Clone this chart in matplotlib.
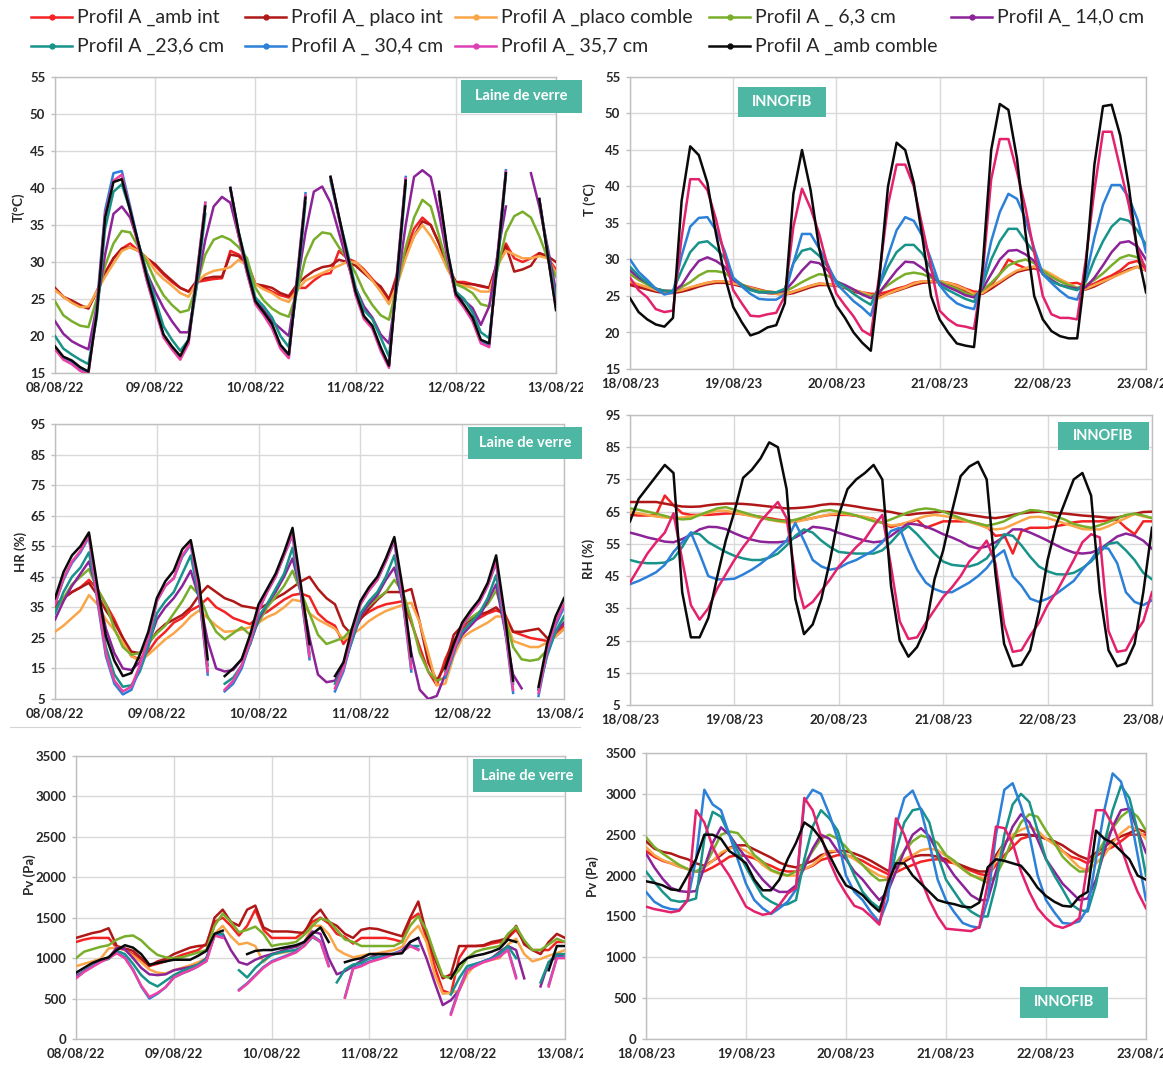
import numpy as np
import matplotlib
matplotlib.use("Agg")
import matplotlib.pyplot as plt
from matplotlib.lines import Line2D
from matplotlib.patches import Rectangle
from matplotlib.transforms import Bbox, TransformedBbox

plt.rcParams["font.family"] = ["Lato", "DejaVu Sans"]

nan = np.nan

# 2-hourly readings over five days (hours since the first midnight)
HOURS = list(range(0, 121, 2))

DAYS_2022 = ["08/08/22", "09/08/22", "10/08/22", "11/08/22", "12/08/22", "13/08/22"]
DAYS_2023 = ["18/08/23", "19/08/23", "20/08/23", "21/08/23", "22/08/23", "23/08/23"]

SERIES_LABELS = [
    "Profil A _amb int", "Profil A_ placo int", "Profil A _placo comble",
    "Profil A _ 6,3 cm", "Profil A_ 14,0 cm", "Profil A _23,6 cm",
    "Profil A _ 30,4 cm", "Profil A_ 35,7 cm", "Profil A _amb comble",
]

# ---------------- Temperature (°C), glass wool, 2022 (sensor gaps above 42.5 °C) ----------------
T22_AMB_INT = [26.4, 25.3, 24.6, 24.0, 23.8, 26.0, 28.5, 30.5, 31.8, 32.5, 31.5, 30.5,
               29.5, 28.3, 27.3, 26.5, 26.0, 27.3, 27.5, 27.7, 27.8, 31.5, 31.0, 30.0,
               27.0, 26.6, 26.0, 25.5, 25.2, 26.5, 26.5, 27.5, 28.3, 28.5, 31.5, 30.5,
               30.0, 29.0, 27.7, 26.5, 24.8, 28.5, 31.5, 34.5, 36.0, 35.0, 32.5, 29.5,
               27.3, 27.3, 27.0, 26.7, 26.5, 30.0, 32.5, 30.5, 30.0, 30.5, 31.2, 30.5,
               29.0]
T22_PLACO_INT = [26.5, 25.3, 24.8, 24.2, 23.7, 26.0, 28.5, 30.5, 31.8, 32.0, 31.5, 30.5,
                 29.7, 28.5, 27.5, 26.5, 26.0, 27.5, 27.8, 28.0, 28.0, 31.0, 30.8, 29.5,
                 27.0, 26.8, 26.5, 25.8, 25.4, 27.0, 28.0, 28.8, 29.3, 29.5, 30.3, 30.0,
                 29.5, 28.5, 27.5, 26.7, 25.0, 28.0, 31.0, 33.5, 35.5, 35.0, 32.5, 29.5,
                 27.3, 27.0, 27.0, 26.8, 26.5, 30.0, 32.2, 28.7, 29.0, 29.5, 31.2, 30.8,
                 30.0]
T22_PLACO_COMBLE = [26.2, 25.3, 24.5, 23.9, 24.0, 26.0, 28.0, 29.8, 31.5, 32.0, 31.5, 30.5,
                    28.8, 27.7, 26.8, 25.8, 25.3, 27.3, 28.3, 28.8, 29.0, 29.3, 30.3, 29.5,
                    27.0, 26.3, 25.8, 25.0, 24.6, 26.2, 27.5, 28.0, 28.5, 29.0, 29.5, 30.0,
                    30.0, 28.8, 27.5, 26.0, 24.3, 27.0, 30.5, 33.5, 35.0, 33.5, 31.5, 29.0,
                    27.0, 26.8, 26.5, 26.0, 26.0, 29.5, 31.5, 31.0, 30.5, 30.5, 30.8, 30.5,
                    28.5]
T22_6_3 = [24.7, 22.8, 22.0, 21.4, 21.2, 25.0, 29.5, 32.5, 34.2, 34.0, 32.0, 30.0,
           27.5, 25.5, 24.2, 23.2, 23.5, 27.0, 31.0, 33.0, 33.5, 33.0, 32.0, 30.5,
           26.5, 24.8, 23.7, 23.0, 22.6, 26.0, 30.5, 33.0, 34.0, 33.8, 32.0, 30.5,
           28.5, 26.0, 24.2, 22.8, 22.2, 27.0, 32.0, 36.0, 38.4, 37.5, 33.5, 29.5,
           27.0, 26.5, 25.8, 24.3, 24.0, 29.0, 34.0, 36.2, 36.8, 36.0, 33.5, 30.5,
           28.0]
T22_14_0 = [22.0, 20.3, 19.3, 18.7, 18.2, 24.0, 31.0, 36.5, 37.5, 36.0, 32.5, 28.5,
            26.0, 23.8, 22.0, 20.5, 20.5, 27.0, 33.0, 37.5, 38.8, 38.0, 33.5, 29.0,
            24.8, 23.5, 22.0, 21.0, 20.0, 27.0, 34.0, 39.5, 40.2, 38.0, 34.0, 30.0,
            26.5, 24.0, 22.5, 20.2, 19.0, 27.0, 35.0, 41.5, 42.4, 41.5, 36.5, 30.5,
            25.5, 24.8, 23.8, 21.5, 24.0, 31.0, 37.5, nan, nan, 42.0, 37.5, 32.0,
            26.0]
T22_23_6 = [20.0, 18.3, 17.5, 16.8, 16.2, 22.5, 34.5, 39.5, 40.5, 37.0, 32.5, 28.5,
            25.0, 21.3, 19.5, 18.0, 19.5, 27.0, 36.5, nan, nan, 40.0, 34.0, 29.5,
            25.2, 24.0, 22.5, 20.0, 18.5, 26.5, 38.0, nan, nan, 41.0, 36.0, 31.5,
            26.5, 23.5, 22.3, 19.8, 17.2, 27.5, 40.5, nan, nan, nan, 39.0, 31.5,
            26.0, 25.0, 23.2, 20.5, 19.7, 29.5, 41.8, nan, nan, nan, 38.5, 31.5,
            25.0]
T22_30_4 = [18.4, 17.0, 16.5, 15.6, 15.0, 24.0, 37.0, 42.0, 42.3, 37.5, 32.5, 27.5,
            23.8, 20.0, 18.4, 17.0, 19.5, 28.5, 38.0, nan, nan, 40.0, 33.5, 28.5,
            24.5, 23.0, 21.3, 18.5, 17.2, 28.0, 39.3, nan, nan, 41.5, 36.0, 30.5,
            25.7, 22.5, 21.2, 18.2, 16.0, 29.0, 41.5, nan, nan, nan, 39.0, 31.0,
            25.5, 24.0, 22.2, 19.3, 18.7, 31.0, 42.4, nan, nan, nan, 38.5, 31.0,
            24.0]
T22_35_7 = [18.2, 16.8, 16.2, 15.3, 14.8, 23.5, 36.5, 41.0, 41.8, 37.0, 32.0, 27.5,
            23.5, 19.8, 18.2, 16.8, 19.0, 28.5, 38.0, nan, nan, 40.0, 33.5, 28.5,
            24.3, 22.8, 21.0, 18.3, 17.0, 28.0, 39.0, nan, nan, 41.5, 36.0, 30.5,
            25.5, 22.3, 21.0, 18.0, 15.7, 29.0, 41.3, nan, nan, nan, 39.0, 31.0,
            25.3, 23.8, 22.0, 19.0, 18.5, 31.0, 42.2, nan, nan, nan, 38.5, 31.0,
            23.8]
T22_AMB_COMBLE = [18.6, 17.2, 16.7, 15.8, 15.2, 23.0, 36.0, 40.8, 41.2, 37.0, 32.5, 28.0,
                  24.0, 20.2, 18.6, 17.3, 19.5, 28.0, 37.5, nan, nan, 40.0, 34.0, 29.0,
                  24.7, 23.2, 21.6, 18.8, 17.5, 27.5, 38.7, nan, nan, 41.5, 36.2, 31.0,
                  26.0, 22.7, 21.4, 18.5, 16.0, 28.5, 41.0, nan, nan, nan, 39.5, 31.5,
                  25.7, 24.2, 22.5, 19.5, 19.0, 30.5, 42.0, nan, nan, nan, 38.5, 31.0,
                  23.5]

# ---------------- Temperature (°C), INNOFIB, 2023 ----------------
T23_AMB_INT = [26.8, 26.5, 26.2, 25.8, 25.7, 25.7, 25.8, 26.1, 26.5, 26.8, 27.0, 27.0,
               26.8, 26.5, 26.2, 25.9, 25.6, 25.5, 25.3, 25.6, 26.0, 26.4, 26.7, 26.6,
               26.5, 26.2, 25.8, 25.5, 25.3, 25.3, 25.6, 26.0, 26.3, 26.8, 27.0, 27.0,
               27.0, 26.8, 26.5, 26.0, 25.6, 25.5, 26.5, 28.0, 30.0, 29.3, 28.8, 29.0,
               28.5, 27.8, 27.2, 26.7, 26.8, 26.3, 26.7, 27.3, 27.8, 28.5, 29.5, 29.8,
               28.7]
T23_PLACO_INT = [26.5, 26.2, 25.9, 25.6, 25.4, 25.4, 25.6, 25.9, 26.3, 26.6, 26.8, 26.8,
                 26.6, 26.3, 26.0, 25.7, 25.4, 25.3, 25.2, 25.4, 25.8, 26.2, 26.5, 26.5,
                 26.4, 26.1, 25.6, 25.3, 25.0, 24.9, 25.3, 25.7, 26.1, 26.5, 26.8, 26.9,
                 26.9, 26.6, 26.2, 25.7, 25.2, 25.3, 26.0, 26.8, 27.6, 28.3, 28.6, 28.8,
                 28.4, 27.8, 27.1, 26.5, 26.0, 25.9, 26.3, 26.9, 27.5, 28.1, 28.7, 29.0,
                 28.5]
T23_PLACO_COMBLE = [27.0, 26.6, 26.2, 25.8, 25.6, 25.6, 25.8, 26.2, 26.5, 26.8, 27.0, 27.0,
                    26.7, 26.5, 26.1, 25.8, 25.5, 25.3, 25.2, 25.6, 26.0, 26.4, 26.7, 26.6,
                    26.5, 26.2, 25.8, 25.5, 25.1, 24.7, 25.3, 25.8, 26.2, 26.7, 27.0, 27.0,
                    27.0, 26.8, 26.4, 25.9, 25.3, 25.4, 26.3, 27.0, 27.8, 28.5, 28.8, 29.0,
                    28.6, 28.0, 27.3, 26.7, 26.1, 26.0, 26.5, 27.0, 27.5, 28.0, 28.5, 29.0,
                    28.5]
T23_6_3 = [28.0, 27.2, 26.6, 26.0, 25.7, 25.6, 26.2, 26.9, 27.8, 28.4, 28.4, 28.2,
           27.3, 26.6, 26.0, 25.7, 25.6, 25.5, 25.6, 26.2, 26.9, 27.5, 28.0, 27.8,
           27.0, 26.3, 25.8, 25.3, 24.9, 25.6, 26.5, 27.3, 28.0, 28.2, 28.0, 27.5,
           27.0, 26.4, 26.0, 25.4, 25.0, 25.8, 26.8, 28.0, 29.2, 29.7, 30.0, 29.5,
           28.5, 27.6, 27.0, 26.5, 26.1, 26.5, 27.2, 28.1, 29.2, 30.2, 30.6, 30.3,
           29.0]
T23_14_0 = [28.5, 27.5, 26.8, 26.0, 25.7, 25.6, 26.5, 28.3, 29.8, 30.3, 29.8, 29.0,
            27.2, 26.5, 25.9, 25.5, 25.5, 25.5, 25.7, 27.0, 28.5, 29.7, 29.5, 28.5,
            27.0, 26.5, 25.9, 25.2, 24.7, 25.5, 27.0, 28.5, 29.7, 29.6, 28.8, 27.8,
            26.8, 26.2, 25.7, 25.1, 24.8, 26.0, 28.0, 30.0, 31.2, 31.3, 30.7, 29.8,
            28.0, 27.2, 26.5, 26.2, 26.0, 26.2, 27.5, 29.2, 31.0, 32.3, 32.5, 31.8,
            30.0]
T23_23_6 = [29.0, 27.8, 26.8, 26.0, 25.7, 25.7, 28.5, 31.0, 32.3, 32.5, 31.5, 30.2,
            27.5, 26.5, 25.8, 25.5, 25.5, 25.5, 26.0, 29.5, 31.2, 31.5, 30.5, 29.0,
            27.0, 26.2, 25.3, 24.5, 23.8, 26.5, 29.0, 31.0, 32.0, 32.0, 30.8, 28.7,
            26.5, 25.8, 25.2, 24.6, 24.2, 26.5, 30.0, 32.5, 34.2, 34.2, 32.5, 31.0,
            28.0, 27.0, 26.5, 26.1, 25.8, 27.0, 30.0, 32.5, 34.5, 35.6, 35.3, 34.0,
            32.0]
T23_30_4 = [30.0, 28.3, 27.2, 26.0, 25.2, 25.5, 30.5, 34.5, 35.7, 35.8, 34.0, 31.2,
            27.5, 26.3, 25.3, 24.6, 24.5, 24.5, 25.2, 29.5, 33.5, 33.5, 31.5, 29.3,
            26.7, 25.5, 24.3, 23.4, 22.3, 26.5, 30.5, 34.0, 35.8, 35.3, 33.2, 30.0,
            26.5, 25.0, 24.0, 23.5, 23.2, 27.0, 32.5, 36.5, 39.0, 38.3, 35.5, 31.5,
            28.0, 26.8, 25.7, 24.8, 24.5, 27.5, 33.0, 37.5, 40.2, 40.2, 38.5, 35.5,
            31.0]
T23_35_7 = [27.5, 25.8, 24.8, 23.2, 22.8, 23.0, 33.0, 41.0, 41.0, 39.5, 35.5, 30.5,
            25.8, 24.0, 22.3, 22.2, 22.5, 22.7, 25.0, 34.5, 39.7, 37.0, 33.5, 29.0,
            25.3, 23.7, 22.2, 20.3, 19.6, 28.0, 37.5, 43.0, 43.0, 40.0, 34.5, 29.0,
            23.0, 21.8, 21.0, 20.8, 20.5, 28.0, 41.0, 46.5, 46.5, 42.0, 37.0, 31.0,
            25.0, 22.5, 22.0, 22.0, 21.8, 30.0, 39.5, 47.5, 47.5, 42.5, 37.5, 31.5,
            28.5]
T23_AMB_COMBLE = [24.7, 22.8, 21.8, 21.1, 20.8, 22.0, 38.0, 45.5, 44.3, 40.5, 33.5, 27.8,
                  23.5, 21.4, 19.6, 20.0, 20.7, 21.0, 24.0, 39.0, 45.0, 39.5, 31.5, 26.5,
                  23.7, 22.0, 20.0, 18.6, 17.5, 27.5, 40.0, 46.0, 45.0, 40.5, 33.0, 25.0,
                  21.8, 20.0, 18.5, 18.2, 18.0, 29.0, 45.0, 51.3, 50.5, 43.8, 33.5, 25.0,
                  21.8, 20.2, 19.5, 19.2, 19.2, 29.0, 43.0, 51.0, 51.2, 47.0, 40.0, 31.0,
                  25.5]

# ---------------- Relative humidity (%), glass wool, 2022 ----------------
HR22_AMB_INT = [36, 38, 40, 41.5, 44, 41, 36, 31, 25, 19, 18, 20.5,
                24.5, 27, 30, 31.5, 34, 35.5, 38, 35, 33.5, 31.5, 30.5, 29.5,
                32, 33.5, 35.5, 37.5, 39, 39.5, 38.5, 33, 30.5, 29, 23, 27,
                31.5, 33.5, 35, 36, 36.5, 37, 30, 22, 14, 9.5, 18, 24,
                28, 30, 31.5, 33, 34, 33, 27, 26, 25, 24.5, 24, 26,
                29]
HR22_PLACO_INT = [35, 38, 40, 41.5, 43, 39, 34, 30, 25, 20.5, 20, 23,
                  27, 29.5, 31, 32.5, 35, 39, 42, 40, 38, 37, 35.5, 35,
                  34.5, 36, 38, 39.5, 41.5, 43.5, 45, 41, 38, 36, 29, 26,
                  31, 34.5, 37.5, 40, 40, 40, 41, 30, 17, 11, 16, 26,
                  29, 31, 32.5, 33.5, 35, 32, 27, 27, 27.5, 28, 25, 25.5,
                  28]
HR22_PLACO_COMBLE = [27, 29, 31.5, 34, 39, 36, 31, 27.5, 23.5, 19, 17.5, 19.5,
                     22, 24.5, 26.5, 29, 32, 34, 31.5, 29, 27, 27.2, 27.7, 28.5,
                     30, 31.8, 33, 35, 37.5, 37, 33, 31, 29.5, 28, 24.5, 26,
                     28, 30.5, 32.3, 33.8, 34.8, 35.8, 36.5, 30, 20, 9.5, 10, 19,
                     25, 27, 28.5, 30, 32, 32, 24, 23, 22, 22, 23.5, 25.5,
                     28]
HR22_6_3 = [34, 38, 42.5, 45, 47.5, 41, 36, 28, 22, 19.5, 20, 23.5,
            26.5, 29, 33, 37, 42, 39, 32, 27, 24.5, 26.5, 28.5, 26,
            30, 35, 38.5, 42, 47, 40, 33, 26, 23, 24, 25, 28,
            33, 35.5, 38, 40, 44, 40, 31, 20, 14, 11, 12, 20,
            29.5, 31.5, 33.5, 36, 40.5, 32, 22, 18, 17.5, 18, 21, 27,
            32]
HR22_14_0 = [31, 37, 42, 46, 50, 40, 28, 20, 15, 14.5, 17, 23,
             31, 35, 38, 42, 47, 38, 24, 15, 14, 14.5, 18, 23,
             31, 36, 40, 45, 51, 40, 25, 13, 10.5, 11, 16, 24,
             32, 36, 39, 44, 48, 37, 20, 8, 5, 6, 13, 21,
             26, 29, 32, 37, 42.5, 28, 13, 8.5, nan, 8, 20, 27,
             30]
HR22_23_6 = [33, 40, 45, 48, 53, 38, 22, 13, 9, 9.5, 14, 22,
             33, 37, 40, 46, 52, 38, 16, nan, 10, 12, 16, 23,
             32, 36, 41, 46, 54.5, 39, 20, nan, nan, 10, 15, 24,
             33, 37, 40, 45, 52, 37, 17, nan, nan, nan, 14, 21,
             27, 30, 33, 38, 45.5, 29, 10, nan, nan, 8, 19, 27,
             32]
HR22_30_4 = [36, 44, 49.5, 53, 58, 37, 19, 10, 6.5, 8, 15, 24,
             37, 42, 44.5, 51.5, 55.5, 39, 13, nan, 7.5, 10, 15, 23.5,
             34, 40, 45, 52, 58.5, 39, 18, nan, nan, 7.5, 14, 25,
             36, 40.5, 44, 50, 56.5, 37, 14, nan, nan, nan, 12, 20,
             29, 33, 36.5, 42, 49.5, 29, 7, nan, nan, 6, 20, 29,
             35]
HR22_35_7 = [36, 44.5, 50, 53.5, 58.5, 38, 20, 11, 7.5, 9, 16, 25,
             37, 42, 44.5, 52, 56, 40, 14, nan, 8, 11, 16, 24,
             34, 40, 45, 52, 59, 40, 19, nan, nan, 8.5, 15, 26,
             36, 40.5, 44, 50, 57, 38, 15, nan, nan, nan, 13, 21,
             29, 33, 36.5, 42, 50, 30, 8, nan, nan, 7, 21, 30,
             36]
HR22_AMB_COMBLE = [38, 46.5, 52, 55, 59.5, 42, 25.5, 17.5, 12.5, 13.5, 19.5, 27,
                   38, 43.5, 47, 54, 57, 43, 18, nan, 12.5, 15, 18, 26,
                   36, 41, 46, 53, 61, 42, 23, nan, nan, 12.5, 17, 28,
                   37, 41.5, 45, 51, 58, 41, 19, nan, nan, nan, 15, 23,
                   30, 34, 37.5, 43, 52, 33, 11, nan, nan, 9, 23, 32,
                   38]

# ---------------- Relative humidity (%), INNOFIB, 2023 ----------------
RH23_AMB_INT = [64, 63.8, 63.8, 64, 70, 67, 64.5, 64, 64, 64, 64.2, 64.4,
                64.5, 64.2, 63.8, 63.4, 63, 62.5, 62.2, 62.2, 62.5, 63, 63.6, 64,
                64, 64, 63.7, 63.2, 62.8, 61.5, 60.2, 61, 61.5, 62.5, 60, 61,
                62, 62, 62, 62, 61.3, 60.5, 57.5, 57.8, 52, 59, 60, 60,
                60, 60.5, 61, 61.7, 62, 62, 62, 62.3, 62.5, 60, 58, 62,
                62]
RH23_PLACO_INT = [68, 68, 68, 68, 67.5, 67, 66.6, 66.5, 66.6, 67, 67.3, 67.5,
                  67.5, 67.4, 67.2, 66.9, 66.6, 66.3, 66, 66.1, 66.3, 66.6, 67.1, 67.4,
                  67.3, 67, 66.6, 66.1, 65.7, 65.3, 64.9, 64.3, 64, 64.4, 64.6, 64.8,
                  65, 64.8, 64.4, 64, 63.6, 63.2, 63, 63.4, 64, 64.5, 64.8, 65,
                  64.8, 64.6, 64.4, 64.1, 63.8, 63.6, 63.4, 63.1, 63.2, 63.8, 64.3, 64.9,
                  65]
RH23_PLACO_COMBLE = [65, 64.5, 64, 63.5, 63.2, 63, 63.2, 63.5, 64, 64.6, 65.3, 65.3,
                     64.7, 64.2, 63.6, 63, 62.5, 62, 61.6, 61.8, 62.4, 63, 63.6, 64.2,
                     64.4, 64.2, 63.8, 63.4, 62.6, 61.5, 60.7, 61, 61.8, 62.8, 63.6, 64,
                     63.7, 63.2, 62.5, 61.8, 61, 60, 59.5, 59.8, 61, 62.2, 63.3, 63.4,
                     63, 62.2, 61.3, 60.5, 59.6, 59.5, 59.5, 60.5, 61.8, 63, 64.3, 63.5,
                     63]
RH23_6_3 = [66, 65.6, 65, 64.4, 63.7, 63, 62.6, 62.8, 64, 65, 66, 66.4,
            65.6, 64.8, 64, 63.3, 62.6, 62.2, 62, 62.5, 63.3, 64.2, 65.2, 65.5,
            65, 64.5, 63.8, 62.9, 62, 61.6, 62.6, 63.7, 64.8, 65.6, 66, 65.7,
            65, 64, 63, 62, 61.3, 60.7, 61.2, 62, 63.5, 64.6, 65.5, 65.3,
            64.5, 63.5, 62.5, 61.2, 60.5, 60, 60.8, 61.8, 62.9, 64, 64.4, 63.8,
            63]
RH23_14_0 = [58.5, 57.8, 57, 56.4, 55.7, 55.5, 56.5, 57.8, 59.5, 60.3, 60.2, 59.6,
             58.3, 57.2, 56.3, 55.7, 55.5, 55.5, 55.8, 57, 58.5, 60.3, 60, 59.5,
             58.4, 57.6, 56.8, 56, 55.5, 55.8, 57.5, 59.5, 61.3, 61, 60.4, 59.3,
             58, 57, 55.8, 54.3, 53.6, 54.2, 55.5, 57.2, 59.5, 59.5, 58.5, 57.3,
             56, 54.6, 53.3, 52.3, 52, 52.3, 53.3, 55.3, 57.3, 58.2, 57.5, 56,
             53.5]
RH23_23_6 = [50, 49.3, 49, 49, 49.2, 50.5, 54, 58.5, 58, 55.5, 54, 52.5,
             51.3, 50.5, 50, 50, 50.7, 52, 54.5, 57.5, 59.5, 58.5, 56, 54,
             52.5, 52.2, 52, 52, 52, 53, 55.5, 58.5, 60.5, 58, 55, 52,
             49.5, 48.5, 48.2, 48, 48.8, 50.5, 54, 58, 57.5, 54.5, 51, 48,
             46.5, 45.6, 45.5, 46, 47.5, 49.5, 52.5, 55, 55.5, 53, 50, 46,
             44]
RH23_30_4 = [42.5, 43.5, 44.8, 46.2, 48.5, 52.5, 55.5, 58.5, 52, 45, 44, 44,
             44.2, 45.5, 47, 48.8, 51, 53.5, 56, 61.5, 56, 50, 48, 47,
             47.5, 49, 50, 51.5, 53, 55.5, 59, 60, 53, 47, 43, 41,
             40, 40, 41.5, 43, 45, 47.5, 51, 53, 45, 42, 38, 37,
             38, 39.5, 41.5, 43.5, 47, 50, 54, 53.5, 49, 40, 37, 36,
             37.5]
RH23_35_7 = [43, 47.5, 52, 55.5, 58.5, 64.5, 50, 36, 31.5, 35, 41, 45.5,
             50, 54, 57.5, 62, 65, 68, 63, 45, 35, 37, 40.5, 44,
             48, 51, 54, 56.5, 60.5, 64, 48, 31, 25.5, 26, 30.5, 34.5,
             38.5, 41.5, 45, 49.5, 52.5, 56, 49, 30, 21.5, 22, 26.5, 30.5,
             36, 40, 45, 50, 55.5, 58, 57, 28, 21.5, 22, 27, 31,
             40]
RH23_AMB_COMBLE = [62, 69, 72.5, 76, 79.5, 77, 40, 26, 26, 32, 44.5, 56,
                   65, 75.5, 78, 81.5, 86.5, 85, 72, 38, 27, 30, 38, 50,
                   64, 72, 75, 77, 79.5, 75, 42, 25, 20, 23, 29, 44,
                   53, 65, 76, 79, 80.5, 75, 46, 24, 17, 17.5, 22, 34,
                   50, 61, 68, 75, 77, 70, 40, 22, 17, 18, 24, 40,
                   60]

# ---------------- Vapour pressure (Pa), glass wool, 2022 ----------------
PV22_AMB_INT = [1200, 1230, 1250, 1250, 1250, 1130, 1100, 1050, 980, 905, 930, 960,
                1000, 1040, 1070, 1100, 1180, 1450, 1500, 1400, 1280, 1400, 1600, 1350,
                1250, 1250, 1250, 1250, 1330, 1450, 1500, 1430, 1300, 1260, 1180, 1250,
                1250, 1250, 1250, 1230, 1200, 1480, 1550, 1250, 900, 600, 560, 1000,
                1150, 1150, 1150, 1180, 1200, 1250, 1350, 1200, 1100, 1100, 1100, 1200,
                1200]
PV22_PLACO_INT = [1250, 1280, 1310, 1330, 1370, 1150, 1120, 1090, 1000, 900, 960, 990,
                  1050, 1090, 1130, 1150, 1160, 1500, 1600, 1450, 1400, 1600, 1650, 1380,
                  1330, 1330, 1330, 1320, 1310, 1500, 1600, 1450, 1400, 1300, 1250, 1350,
                  1370, 1360, 1330, 1300, 1270, 1500, 1700, 1300, 1000, 750, 800, 1150,
                  1150, 1150, 1160, 1200, 1220, 1250, 1400, 1170, 1100, 1050, 1200, 1300,
                  1250]
PV22_PLACO_COMBLE = [900, 930, 960, 990, 1120, 1130, 1100, 1030, 950, 860, 820, 810,
                     850, 880, 910, 950, 1000, 1300, 1400, 1270, 1170, 1190, 1150, 950,
                     1050, 1060, 1080, 1100, 1190, 1400, 1400, 1300, 1110, 1050, 1010, 1030,
                     1050, 1060, 1080, 1100, 1140, 1300, 1400, 1200, 800, 560, 570, 600,
                     800, 920, 950, 980, 1000, 1170, 1240, 1050, 960, 990, 1030, 1060,
                     1100]
PV22_6_3 = [1000, 1080, 1110, 1140, 1160, 1230, 1270, 1280, 1220, 1120, 1040, 1010,
            1000, 1010, 1040, 1070, 1100, 1400, 1550, 1450, 1320, 1350, 1390, 1300,
            1150, 1170, 1180, 1200, 1290, 1400, 1490, 1460, 1350, 1230, 1200, 1150,
            1150, 1150, 1150, 1150, 1200, 1400, 1520, 1350, 1050, 780, 750, 850,
            1000, 1080, 1110, 1130, 1150, 1300, 1390, 1220, 1100, 1100, 1170, 1240,
            1200]
PV22_14_0 = [780, 840, 900, 980, 1000, 1130, 1110, 1000, 880, 800, 790, 800,
             850, 870, 890, 920, 1000, 1280, 1300, 1100, 950, 920, 980, 1020,
             1050, 1080, 1120, 1140, 1200, 1330, 1300, 1000, 800, 840, 900, 970,
             1000, 1050, 1050, 1050, 1100, 1200, 1250, 1000, 700, 420, 480, 600,
             850, 920, 960, 1000, 1080, 1150, 1100, 750, nan, 650, 950, 1020,
             1050]
PV22_23_6 = [760, 840, 900, 960, 990, 1090, 1050, 930, 790, 700, 650, 720,
             790, 840, 880, 920, 990, 1280, 1300, nan, 850, 760, 880, 970,
             1040, 1070, 1090, 1100, 1150, 1260, 1200, nan, 700, 860, 920, 940,
             1000, 1010, 1030, 1050, 1080, 1150, 1150, nan, nan, nan, 550, 750,
             900, 930, 960, 1000, 1060, 1150, 1000, nan, nan, 700, 950, 1050,
             1050]
PV22_30_4 = [760, 840, 900, 960, 1010, 1070, 1010, 860, 650, 500, 560, 640,
             760, 810, 850, 900, 970, 1290, 1260, nan, 610, 690, 790, 890,
             960, 1000, 1040, 1080, 1160, 1280, 1210, 910, nan, 520, 880, 910,
             960, 990, 1020, 1060, 1090, 1160, 1110, nan, nan, nan, 320, 620,
             860, 910, 960, 990, 1030, 1110, 770, nan, nan, nan, 670, 1010,
             1010]
PV22_35_7 = [750, 830, 890, 950, 1000, 1060, 1000, 850, 660, 520, 570, 640,
             760, 810, 850, 900, 960, 1280, 1250, nan, 600, 680, 780, 880,
             950, 990, 1030, 1070, 1150, 1270, 1200, 900, nan, 510, 870, 900,
             950, 980, 1010, 1050, 1080, 1150, 1100, nan, nan, nan, 300, 600,
             850, 900, 950, 980, 1020, 1100, 750, nan, nan, nan, 650, 1000,
             1000]
PV22_AMB_COMBLE = [820, 880, 940, 980, 1010, 1100, 1160, 1130, 1050, 920, 940, 960,
                   980, 980, 980, 1030, 1090, 1300, 1340, nan, nan, 1050, 1090, 1100,
                   1100, 1120, 1140, 1160, 1200, 1300, 1380, 1200, nan, 950, 980, 1000,
                   1050, 1050, 1050, 1050, 1060, 1200, 1250, nan, nan, nan, 750, 920,
                   1000, 1030, 1050, 1080, 1120, 1230, 1200, nan, nan, nan, 850, 1150,
                   1150]

# ---------------- Vapour pressure (Pa), INNOFIB, 2023 ----------------
PV23_AMB_INT = [2300, 2230, 2180, 2150, 2110, 2080, 2050, 2050, 2100, 2160, 2230, 2250,
                2240, 2210, 2160, 2120, 2070, 2050, 2050, 2080, 2120, 2190, 2220, 2250,
                2250, 2220, 2180, 2120, 2070, 2020, 2040, 2090, 2130, 2170, 2190, 2200,
                2170, 2150, 2100, 2060, 2020, 2000, 2130, 2250, 2350, 2450, 2480, 2500,
                2450, 2400, 2300, 2230, 2200, 2150, 2240, 2300, 2350, 2420, 2500, 2500,
                2500]
PV23_PLACO_INT = [2420, 2330, 2290, 2270, 2230, 2200, 2150, 2120, 2180, 2250, 2340, 2370,
                  2370, 2320, 2270, 2220, 2160, 2120, 2100, 2140, 2180, 2250, 2280, 2300,
                  2300, 2270, 2230, 2180, 2120, 2060, 2100, 2170, 2230, 2250, 2250, 2230,
                  2200, 2160, 2120, 2080, 2050, 2050, 2250, 2400, 2480, 2500, 2500, 2480,
                  2450, 2420, 2370, 2300, 2240, 2200, 2280, 2350, 2430, 2480, 2520, 2570,
                  2530]
PV23_PLACO_COMBLE = [2350, 2250, 2190, 2150, 2110, 2080, 2050, 2100, 2180, 2280, 2330, 2350,
                     2300, 2230, 2130, 2060, 2020, 2000, 2000, 2080, 2130, 2220, 2300, 2300,
                     2260, 2200, 2130, 2060, 2000, 1970, 2050, 2200, 2250, 2310, 2330, 2310,
                     2240, 2150, 2080, 2000, 1980, 1950, 2200, 2400, 2500, 2560, 2600, 2550,
                     2450, 2380, 2300, 2200, 2100, 2060, 2150, 2250, 2400, 2520, 2600, 2560,
                     2450]
PV23_6_3 = [2470, 2350, 2270, 2200, 2130, 2080, 2050, 2110, 2300, 2500, 2540, 2520,
            2400, 2250, 2170, 2070, 2030, 2000, 2050, 2150, 2300, 2450, 2500, 2450,
            2350, 2230, 2130, 2020, 1940, 1950, 2150, 2300, 2420, 2490, 2460, 2400,
            2250, 2180, 2080, 2010, 1960, 1910, 2000, 2200, 2450, 2650, 2750, 2720,
            2550, 2400, 2230, 2130, 2050, 2050, 2250, 2420, 2580, 2720, 2800, 2720,
            2550]
PV23_14_0 = [2270, 2100, 1960, 1850, 1810, 1800, 1810, 2100, 2400, 2590, 2500, 2350,
             2220, 2080, 1950, 1850, 1800, 1800, 1880, 2100, 2330, 2500, 2450, 2300,
             2200, 2050, 1950, 1820, 1700, 1800, 2050, 2300, 2500, 2580, 2480, 2280,
             2150, 2000, 1880, 1760, 1700, 1700, 2050, 2350, 2600, 2750, 2650, 2440,
             2200, 2050, 1900, 1800, 1700, 1720, 1950, 2300, 2600, 2800, 2820, 2550,
             2280]
PV23_23_6 = [2050, 1920, 1800, 1700, 1680, 1690, 1720, 2450, 2780, 2720, 2500, 2300,
             2100, 1920, 1750, 1680, 1630, 1650, 1700, 2200, 2600, 2800, 2700, 2550,
             2230, 2000, 1800, 1680, 1600, 1800, 2300, 2650, 2800, 2820, 2650, 2250,
             1950, 1800, 1650, 1560, 1500, 1500, 1900, 2500, 2870, 3000, 2900, 2550,
             2200, 2000, 1830, 1650, 1580, 1560, 1900, 2400, 2800, 3100, 2950, 2550,
             2000]
PV23_30_4 = [1800, 1680, 1620, 1590, 1580, 1700, 2200, 3050, 2870, 2800, 2500, 2200,
             1900, 1700, 1600, 1530, 1600, 1680, 1830, 2900, 3050, 3000, 2750, 2450,
             2000, 1800, 1700, 1550, 1430, 1700, 2600, 2950, 3040, 2800, 2400, 1950,
             1700, 1550, 1420, 1380, 1360, 1700, 2500, 3050, 3130, 2850, 2500, 2000,
             1700, 1550, 1420, 1410, 1440, 1600, 2200, 2800, 3250, 3150, 2800, 2250,
             1700]
PV23_35_7 = [1620, 1590, 1570, 1550, 1570, 1700, 2800, 2650, 2350, 2150, 2000, 1810,
             1620, 1560, 1520, 1540, 1640, 1780, 1850, 2950, 2800, 2480, 2180, 1950,
             1780, 1630, 1590, 1500, 1400, 1900, 2700, 2500, 2200, 1950, 1700, 1500,
             1350, 1340, 1330, 1320, 1370, 1900, 2600, 2580, 2400, 2050, 1800, 1600,
             1480, 1390, 1360, 1400, 1480, 2150, 2800, 2800, 2620, 2350, 2050, 1800,
             1600]
PV23_AMB_COMBLE = [1930, 1910, 1880, 1830, 1820, 2000, 2200, 2500, 2500, 2450, 2300, 2230,
                   2150, 1950, 1820, 1820, 1950, 2200, 2400, 2650, 2580, 2450, 2250, 2050,
                   1880, 1830, 1760, 1650, 1560, 1900, 2150, 2150, 2000, 1900, 1800, 1700,
                   1670, 1650, 1620, 1610, 1670, 2100, 2200, 2180, 2150, 2120, 2000, 1850,
                   1750, 1680, 1630, 1620, 1740, 1800, 2550, 2450, 2400, 2300, 2200, 2000,
                   1950]

# ---------------- styling ----------------
COLORS_LEFT = ["#F42323", "#B01818", "#F9A548", "#79AE2B", "#8C2398",
               "#17938A", "#2C80D8", "#EE41A4", "#0A0A0A"]
COLORS_RIGHT = ["#F42323", "#B01818", "#F9A548", "#79AE2B", "#8C2398",
                "#17938A", "#2C80D8", "#E4216C", "#0A0A0A"]
LEGEND_COLORS = ["#F42323", "#B01818", "#F9A548", "#79AE2B", "#8C2398",
                 "#17938A", "#2C80D8", "#DD3FB6", "#0A0A0A"]
TAG_COLOR = "#4DB7A4"
GRID_COLOR = "#D9D9D9"
FRAME_COLOR = "#BFBFBF"
TEXT_COLOR = "#262626"

W, H = 1163, 1066
fig = plt.figure(figsize=(W / 100, H / 100), dpi=100)


def frac_rect(l, t, r, b):
    return [l / W, 1 - b / H, (r - l) / W, (b - t) / H]


panels = [
    dict(rect=(55, 77, 556, 373), series=[T22_AMB_INT, T22_PLACO_INT, T22_PLACO_COMBLE, T22_6_3, T22_14_0,
                                          T22_23_6, T22_30_4, T22_35_7, T22_AMB_COMBLE],
         ylim=(15, 55), step=5, days=DAYS_2022, colors=COLORS_LEFT,
         ylabel="T(°C)", ylab=(18, 207), tag="Laine de verre", tagbox=(461, 80, 582, 113), clip=583),
    dict(rect=(630, 77, 1146, 369), series=[T23_AMB_INT, T23_PLACO_INT, T23_PLACO_COMBLE, T23_6_3, T23_14_0,
                                            T23_23_6, T23_30_4, T23_35_7, T23_AMB_COMBLE],
         ylim=(15, 55), step=5, days=DAYS_2023, colors=COLORS_RIGHT,
         ylabel="T (°C)", ylab=(590, 200), tag="INNOFIB", tagbox=(738, 87, 826, 117), clip=W),
    dict(rect=(55, 424, 564, 699), series=[HR22_AMB_INT, HR22_PLACO_INT, HR22_PLACO_COMBLE, HR22_6_3, HR22_14_0,
                                           HR22_23_6, HR22_30_4, HR22_35_7, HR22_AMB_COMBLE],
         ylim=(5, 95), step=10, days=DAYS_2022, colors=COLORS_LEFT,
         ylabel="HR (%)", ylab=(21, 552), tag="Laine de verre", tagbox=(468, 427, 582, 459), clip=583),
    dict(rect=(630, 415, 1152, 705), series=[RH23_AMB_INT, RH23_PLACO_INT, RH23_PLACO_COMBLE, RH23_6_3, RH23_14_0,
                                             RH23_23_6, RH23_30_4, RH23_35_7, RH23_AMB_COMBLE],
         ylim=(5, 95), step=10, days=DAYS_2023, colors=COLORS_RIGHT,
         ylabel="RH (%)", ylab=(589, 559), tag="INNOFIB", tagbox=(1058, 422, 1149, 450), clip=W),
    dict(rect=(76, 756, 565, 1039), series=[PV22_AMB_INT, PV22_PLACO_INT, PV22_PLACO_COMBLE, PV22_6_3, PV22_14_0,
                                            PV22_23_6, PV22_30_4, PV22_35_7, PV22_AMB_COMBLE],
         ylim=(0, 3500), step=500, days=DAYS_2022, colors=COLORS_LEFT,
         ylabel="Pv (Pa)", ylab=(30, 875), tag="Laine de verre", tagbox=(473, 759, 582, 792), clip=583),
    dict(rect=(646, 753, 1146, 1039), series=[PV23_AMB_INT, PV23_PLACO_INT, PV23_PLACO_COMBLE, PV23_6_3, PV23_14_0,
                                              PV23_23_6, PV23_30_4, PV23_35_7, PV23_AMB_COMBLE],
         ylim=(0, 3500), step=500, days=DAYS_2023, colors=COLORS_RIGHT,
         ylabel="Pv (Pa)", ylab=(593, 877), tag="INNOFIB", tagbox=(1020, 987, 1108, 1018), clip=W),
]

for p in panels:
    ax = fig.add_axes(frac_rect(*p["rect"]))
    for vals, color in zip(p["series"], p["colors"]):
        ax.plot(HOURS, vals, color=color, lw=1.8, solid_joinstyle="round", zorder=3)
    lo, hi = p["ylim"]
    ax.set_xlim(0, 120)
    ax.set_ylim(lo, hi)
    ax.set_yticks(np.arange(lo, hi + p["step"] / 2, p["step"]))
    ax.set_xticks(range(0, 121, 24))
    ax.set_xticklabels(p["days"])
    ax.grid(True, color=GRID_COLOR, lw=1.0)
    ax.set_axisbelow(True)
    for s in ax.spines.values():
        s.set_color(FRAME_COLOR)
        s.set_linewidth(1.0)
    ax.tick_params(axis="x", length=0, pad=6, labelsize=9.5, labelcolor=TEXT_COLOR)
    ax.tick_params(axis="y", length=3, width=1.0, color=FRAME_COLOR, pad=4,
                   labelsize=9.5, labelcolor=TEXT_COLOR)
    clip_box = TransformedBbox(Bbox.from_extents(0, 0, p["clip"] / W, 1), fig.transFigure)
    for lbl in ax.get_xticklabels():
        lbl.set_fontweight("bold")
        lbl.set_clip_box(clip_box)
        lbl.set_clip_on(True)
    for lbl in ax.get_yticklabels():
        lbl.set_fontweight("bold")

    fig.text(p["ylab"][0] / W, 1 - p["ylab"][1] / H, p["ylabel"], rotation=90,
             ha="center", va="center", fontsize=9.5, fontweight="bold", color=TEXT_COLOR)

    l, t, r, b = p["tagbox"]
    fig.patches.append(Rectangle((l / W, 1 - b / H), (r - l) / W, (b - t) / H,
                                 transform=fig.transFigure, facecolor=TAG_COLOR,
                                 edgecolor="none", zorder=5))
    fig.text((l + r) / 2 / W, 1 - (t + b) / 2 / H, p["tag"], ha="center", va="center",
             fontsize=10.5, fontweight="bold", color="white", zorder=6)

# faint separator under the humidity row
fig.add_artist(Line2D([10 / W, 580 / W], [1 - 727 / H, 1 - 727 / H],
                      transform=fig.transFigure, color="#D4D4D4", lw=0.8))

# legend, two rows across the top
legend_slots = [(31, 17), (245, 17), (455, 17), (709, 17), (951, 17),
                (31, 46), (245, 46), (455, 46), (709, 46)]
for label, color, (x0, y0) in zip(SERIES_LABELS, LEGEND_COLORS, legend_slots):
    yf = 1 - y0 / H
    fig.add_artist(Line2D([x0 / W, (x0 + 41) / W], [yf, yf], transform=fig.transFigure,
                          color=color, lw=1.8))
    fig.add_artist(Line2D([(x0 + 20.5) / W], [yf], transform=fig.transFigure,
                          color=color, marker="o", markersize=3.5, lw=0))
    fig.text((x0 + 46) / W, yf, label, ha="left", va="center", fontsize=14, color=TEXT_COLOR)

fig.savefig("out.png", dpi=100, facecolor="white")
